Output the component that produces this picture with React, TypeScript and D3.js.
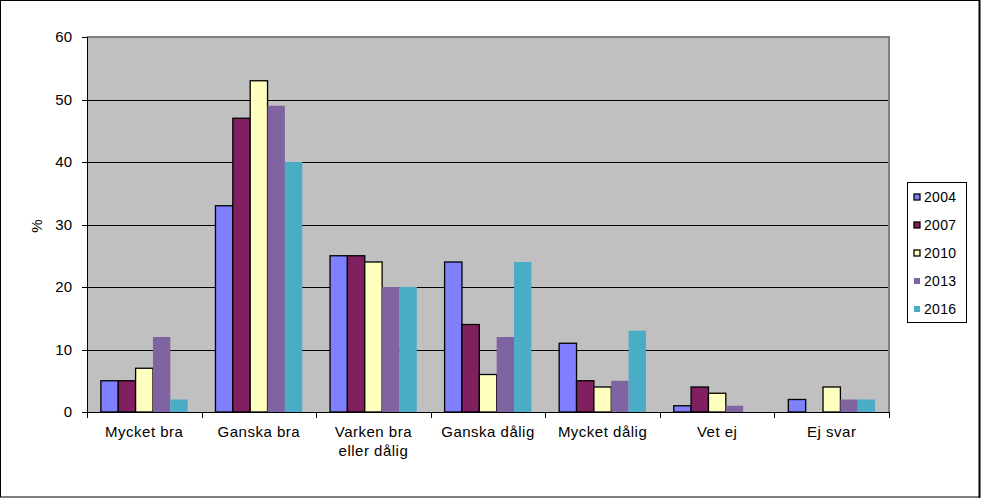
import React from "react";
import * as d3 from "d3";

const categories: string[][] = [
  ["Mycket bra"],
  ["Ganska bra"],
  ["Varken bra", "eller dålig"],
  ["Ganska dålig"],
  ["Mycket dålig"],
  ["Vet ej"],
  ["Ej svar"],
];
const seriesNames = ["2004", "2007", "2010", "2013", "2016"];
const v2004 = [5, 33, 25, 24, 11, 1, 2];
const v2007 = [5, 47, 25, 14, 5, 4, 0];
const v2010 = [7, 53, 24, 6, 4, 3, 4];
const v2013 = [12, 49, 20, 12, 5, 1, 2];
const v2016 = [2, 40, 20, 24, 13, 0, 2];
const seriesValues = [v2004, v2007, v2010, v2013, v2016];
const colors = ["#8080FF", "#802060", "#FFFFC0", "#8064A2", "#4BACC6"];
const bordered = [true, true, true, false, false];
const yTicks = [0, 10, 20, 30, 40, 50, 60];

const W = 981;
const H = 498;
const L = 87;
const R = 889;
const T = 37;
const B = 412;
const FONT = "'Liberation Sans', Arial, sans-serif";

export default function App() {
  const idx = categories.map((_, i) => String(i));
  const x = d3.scaleBand<string>().domain(idx).range([L, R]).paddingInner(0).paddingOuter(0);
  const xs = d3
    .scaleBand<string>()
    .domain(seriesNames)
    .range([0, x.bandwidth()])
    .paddingInner(0)
    .paddingOuter(0.8);
  const y = d3.scaleLinear().domain([0, 60]).range([B, T]);

  return (
    <svg
      width={W}
      height={H}
      style={{ position: "absolute", left: 0, top: 0, fontFamily: FONT }}
    >
      <rect x={0} y={0} width={W} height={H} fill="#fff" />
      <rect x={0.5} y={0.5} width={W - 2} height={H - 1.5} fill="none" stroke="#000" strokeWidth={1} />
      <line x1={979.5} y1={0} x2={979.5} y2={H} stroke="#000" strokeWidth={2} />
      {/* plot area */}
      <rect x={L} y={T} width={R - L} height={B - T} fill="#C0C0C0" />
      {yTicks
        .filter((t) => t > 0 && t < 60)
        .map((t) => (
          <line key={t} x1={L} x2={R} y1={Math.round(y(t)) + 0.5} y2={Math.round(y(t)) + 0.5} stroke="#000" strokeWidth={1} />
        ))}
      <line x1={L} x2={R + 1} y1={T} y2={T} stroke="#808080" strokeWidth={2} />
      <line x1={R} x2={R} y1={T} y2={B} stroke="#808080" strokeWidth={2} />
      {/* bars */}
      {seriesValues.map((vals, s) =>
        vals.map((v, i) => {
          if (v === 0) return null;
          const bx = (x(String(i)) as number) + (xs(seriesNames[s]) as number);
          const by = y(v);
          return (
            <rect
              key={s + "-" + i}
              x={bx}
              y={by}
              width={xs.bandwidth()}
              height={B - by}
              fill={colors[s]}
              stroke={bordered[s] ? "#000" : "none"}
              strokeWidth={bordered[s] ? 1.3 : 0}
            />
          );
        })
      )}
      {/* axes */}
      <line x1={L + 0.5} x2={L + 0.5} y1={T} y2={B} stroke="#000" strokeWidth={1} />
      <line x1={L} x2={R + 1} y1={B + 0.5} y2={B + 0.5} stroke="#000" strokeWidth={1} />
      {yTicks.map((t) => (
        <g key={t}>
          <line x1={L - 5} x2={L} y1={Math.round(y(t)) + 0.5} y2={Math.round(y(t)) + 0.5} stroke="#000" />
          <text x={L - 15} y={y(t) + 5} textAnchor="end" fontSize={15} fill="#000">
            {t}
          </text>
        </g>
      ))}
      {idx.concat([String(categories.length)]).map((k, i) => {
        const xx = Math.round(L + i * x.step()) + 0.5;
        return <line key={"t" + i} x1={xx} x2={xx} y1={B} y2={B + 6} stroke="#000" />;
      })}
      {categories.map((lines, i) => {
        const cx = (x(String(i)) as number) + x.bandwidth() / 2;
        return (
          <text key={"c" + i} textAnchor="middle" fontSize={15} fill="#000" letterSpacing={0.5}>
            {lines.map((ln, j) => (
              <tspan key={j} x={cx} y={437 + j * 19}>
                {ln}
              </tspan>
            ))}
          </text>
        );
      })}
      <text
        transform={`translate(42,226) rotate(-90)`}
        textAnchor="middle"
        fontSize={15}
        fill="#000"
      >
        %
      </text>
      {/* legend */}
      <rect x={907.5} y={182.5} width={59} height={140} fill="#fff" stroke="#000" strokeWidth={1} />
      {seriesNames.map((n, s) => {
        const cy = 197 + s * 28;
        return (
          <g key={n}>
            <rect
              x={914}
              y={cy - 3}
              width={6}
              height={6}
              fill={colors[s]}
              stroke={bordered[s] ? "#000" : "none"}
              strokeWidth={1.3}
            />
            <text x={924} y={cy + 5} fontSize={14} fill="#000" letterSpacing={0.3}>
              {n}
            </text>
          </g>
        );
      })}
    </svg>
  );
}
